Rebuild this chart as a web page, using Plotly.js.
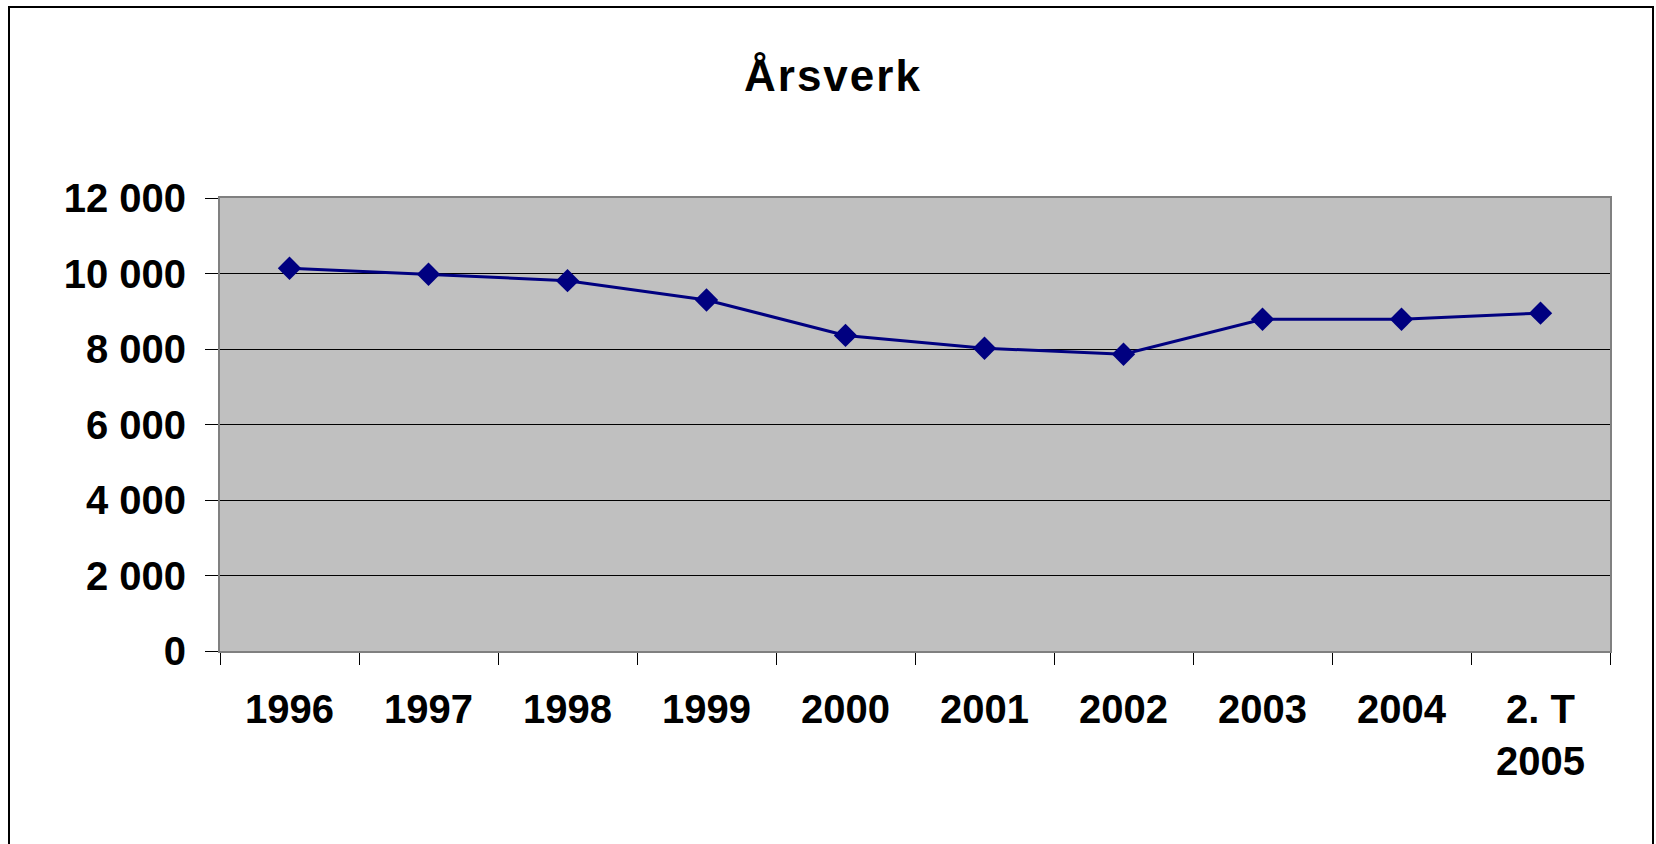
<!DOCTYPE html>
<html>
<head>
<meta charset="utf-8">
<script src="https://cdn.plot.ly/plotly-3.0.1.min.js"></script>
<style>
  html, body { margin: 0; padding: 0; background: #fff; }
  #chart { width: 1656px; height: 844px; }
  .gtitle { letter-spacing: 2px; }
</style>
</head>
<body>
<div id="chart"></div>
<script>
const chartTitle = "Årsverk";
const categories = ["1996", "1997", "1998", "1999", "2000", "2001", "2002", "2003", "2004", "2. T<br>2005"];
const arsverk = [10140, 9980, 9810, 9300, 8360, 8020, 7860, 8790, 8790, 8950];
const yTickValues = [0, 2000, 4000, 6000, 8000, 10000, 12000];

const W = 1656, H = 844;
const mL = 220, mR = 46, mT = 198, mB = 193;
const plotW = W - mL - mR, plotH = H - mT - mB;
// outer frame in paper coordinates
const fx0 = (9 - mL) / plotW, fx1 = (1653 - mL) / plotW;
const fy1 = (H - mB - 7) / plotH, fy0 = (H - mB - 860) / plotH;

const trace = {
  type: "scatter",
  mode: "lines+markers",
  x: categories,
  y: arsverk,
  line: { color: "#000080", width: 3 },
  marker: { symbol: "diamond", size: 18, color: "#000080" },
  hoverinfo: "x+y"
};

const fontFam = "Liberation Sans, Arial, sans-serif";

const layout = {
  width: W, height: H,
  margin: { l: mL, r: mR, t: mT, b: mB, pad: 0 },
  paper_bgcolor: "#ffffff",
  plot_bgcolor: "#c0c0c0",
  separators: ", ",
  showlegend: false,
  font: { family: fontFam, color: "#000" },
  title: {
    text: "<b>" + chartTitle + "</b>",
    font: { family: fontFam, size: 44, color: "#000" },
    xref: "container", yref: "container",
    x: 0.503, xanchor: "center",
    y: 0.91, yanchor: "middle"
  },
  xaxis: {
    type: "category",
    tickson: "boundaries",
    ticks: "outside", ticklen: 12, tickwidth: 1, tickcolor: "#000",
    showgrid: false,
    showline: true, linecolor: "#808080", linewidth: 2, mirror: true,
    tickfont: { family: fontFam, size: 40, color: "#000", weight: "bold" },
    ticklabelstandoff: 22,
    range: [-0.5, categories.length - 0.5],
    fixedrange: true
  },
  yaxis: {
    range: [0, 12000],
    tickvals: yTickValues,
    tickformat: ",d",
    ticks: "outside", ticklen: 13, tickwidth: 1, tickcolor: "#000",
    showgrid: true, gridcolor: "#000", gridwidth: 1,
    zeroline: false,
    showline: true, linecolor: "#808080", linewidth: 2, mirror: true,
    tickfont: { family: fontFam, size: 40, color: "#000", weight: "bold" },
    ticklabelstandoff: 11,
    fixedrange: true
  },
  shapes: [{
    type: "rect", xref: "paper", yref: "paper",
    x0: fx0, x1: fx1, y0: fy0, y1: fy1,
    line: { color: "#000", width: 2 },
    fillcolor: "rgba(0,0,0,0)",
    layer: "above"
  }]
};

Plotly.newPlot("chart", [trace], layout, { displayModeBar: false, staticPlot: true });
</script>
</body>
</html>
